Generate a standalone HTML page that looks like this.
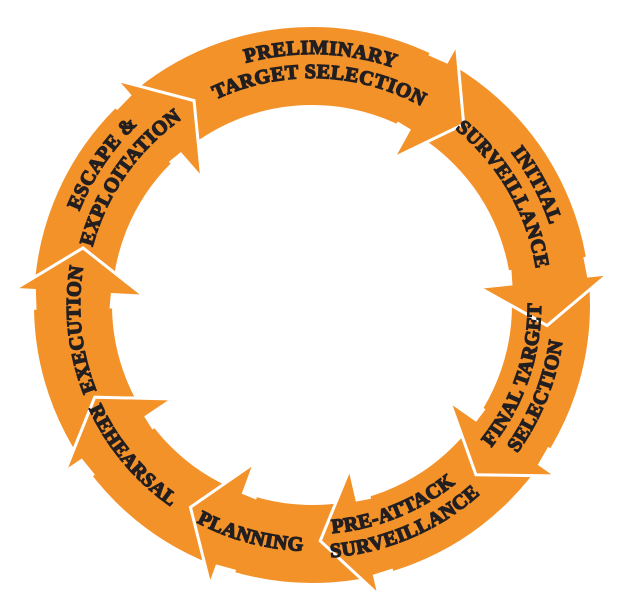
<!DOCTYPE html>
<html><head><meta charset="utf-8"><style>
html,body{margin:0;padding:0;background:#fff;width:624px;height:597px;overflow:hidden}
svg{display:block}
text{font-family:"Liberation Serif",serif;font-weight:bold;font-size:20px;fill:#231f20;stroke:#231f20;stroke-width:1.4;letter-spacing:0.6px}
</style></head><body>
<svg id="s" width="624" height="597" viewBox="0 0 624 597">
<circle cx="312" cy="305" r="239" fill="none" stroke="#F4922A" stroke-width="78"/>
<g id="segs"></g>
<defs>
<path id="p0a"/><path id="p0b"/>
<path id="p1a"/><path id="p1b"/>
<path id="p2a"/><path id="p2b"/>
<path id="p3a"/><path id="p3b"/>
<path id="p4a"/>
<path id="p5a"/>
<path id="p6a"/>
<path id="p7a"/><path id="p7b"/>
</defs>
<text><textPath href="#p0a" startOffset="50%" text-anchor="middle">PRELIMINARY</textPath></text>
<text><textPath href="#p0b" startOffset="50%" text-anchor="middle">TARGET SELECTION</textPath></text>
<text><textPath href="#p1a" startOffset="50%" text-anchor="middle">INITIAL</textPath></text>
<text><textPath href="#p1b" startOffset="50%" text-anchor="middle">SURVEILLANCE</textPath></text>
<text><textPath href="#p2a" startOffset="50%" text-anchor="middle">FINAL TARGET</textPath></text>
<text><textPath href="#p2b" startOffset="50%" text-anchor="middle">SELECTION</textPath></text>
<text><textPath href="#p3a" startOffset="50%" text-anchor="middle">PRE-ATTACK</textPath></text>
<text><textPath href="#p3b" startOffset="50%" text-anchor="middle">SURVEILLANCE</textPath></text>
<text><textPath href="#p4a" startOffset="50%" text-anchor="middle">PLANNING</textPath></text>
<text><textPath href="#p5a" startOffset="50%" text-anchor="middle">REHEARSAL</textPath></text>
<text><textPath href="#p6a" startOffset="50%" text-anchor="middle">EXECUTION</textPath></text>
<text><textPath href="#p7a" startOffset="50%" text-anchor="middle">ESCAPE &amp;</textPath></text>
<text><textPath href="#p7b" startOffset="50%" text-anchor="middle">EXPLOITATION</textPath></text>
</svg>
<script>
var cx=312,cy=305,RO=278,RI=200,RM=238;
function P(r,a){var t=a*Math.PI/180;return (cx+r*Math.sin(t)).toFixed(2)+","+(cy-r*Math.cos(t)).toFixed(2);}
var T=[-30,40,95,136,178,211,247,284];
var g=document.getElementById("segs"),ns="http://www.w3.org/2000/svg";
for(var i=0;i<8;i++){
 var t=T[i],bb=t-11;
 var d="M"+P(RO-1,bb-4)+" L"+P(RO,bb)+" L"+P(298,bb)+" L"+P(236,t)+" L"+P(168,bb)+" L"+P(RI,bb)+" L"+P(RI+1,bb-4);
 var p=document.createElementNS(ns,"path");p.setAttribute("d",d);p.setAttribute("fill","#F4922A");p.setAttribute("stroke","#fff");p.setAttribute("stroke-width","3");p.setAttribute("stroke-linejoin","miter");g.appendChild(p);
}
function cw(id,r,m){document.getElementById(id).setAttribute("d","M"+P(r,m-70)+" A"+r+","+r+" 0 0 1 "+P(r,m+70));}
function ccw(id,r,m){document.getElementById(id).setAttribute("d","M"+P(r,m+70)+" A"+r+","+r+" 0 0 0 "+P(r,m-70));}
cw("p0a",251,2);cw("p0b",227,2);
cw("p1a",251,62);cw("p1b",227,60);
ccw("p2a",229,109);ccw("p2b",253,112);
ccw("p3a",229,158);ccw("p3b",253,157);
ccw("p4a",246,195);
ccw("p5a",246,230);
cw("p6a",232,264);
cw("p7a",251,304);cw("p7b",227,305);
</script>
</body></html>
